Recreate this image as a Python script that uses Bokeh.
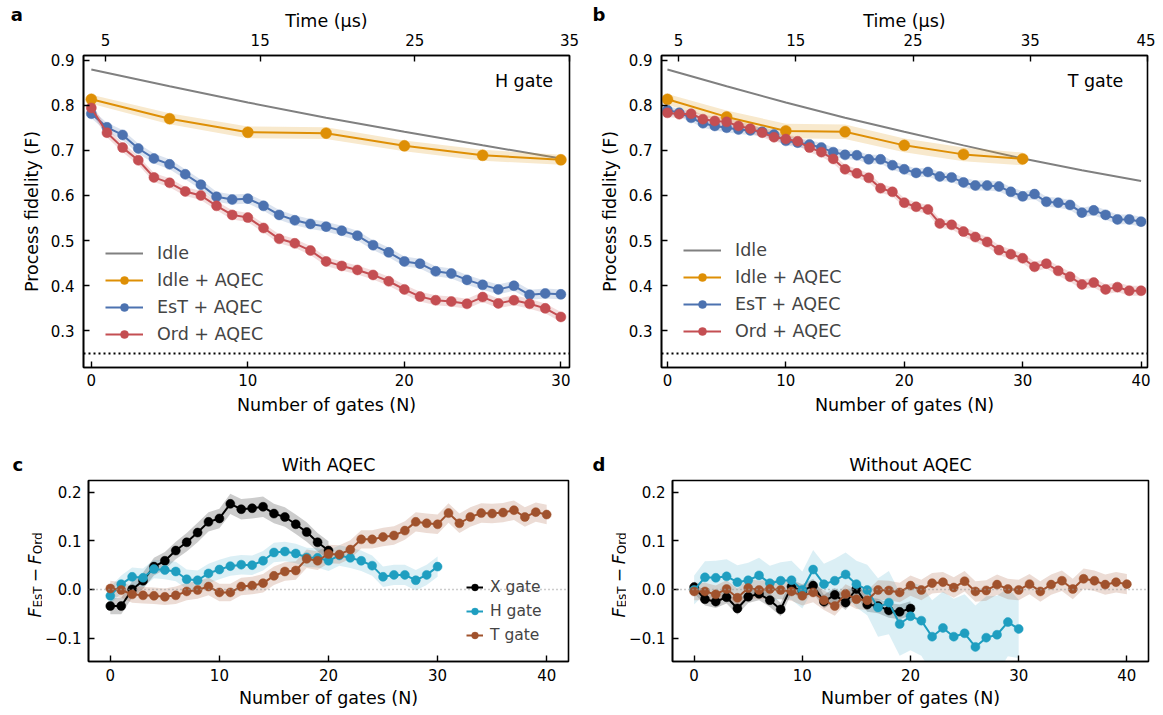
import numpy as np
from bokeh.plotting import figure
from bokeh.models import (Range1d, LinearAxis, FixedTicker, Span, Label, Legend, LegendItem)
from bokeh.layouts import column, row
from bokeh.embed import file_html
from bokeh.resources import INLINE

FONT = "DejaVu Sans"

# ---------------- data ----------------
N30 = list(range(31))
N40 = list(range(41))
N20 = list(range(21))

idle_N_a = [0, 5, 10, 15, 20, 25, 30]
idle_a = [0.879, 0.842, 0.806, 0.772, 0.741, 0.711, 0.682]
idle_N_b = [0, 5, 10, 15, 20, 25, 30, 35, 40]
idle_b = [0.879, 0.842, 0.806, 0.772, 0.741, 0.711, 0.682, 0.656, 0.632]

aqec_N = [0, 5, 10, 15, 20, 25, 30]
idle_aqec_a = [0.813, 0.770, 0.740, 0.738, 0.710, 0.689, 0.679]
idle_aqec_a_err = [0.010, 0.012, 0.013, 0.013, 0.012, 0.012, 0.011]
idle_aqec_b = [0.813, 0.774, 0.743, 0.741, 0.711, 0.691, 0.681]
idle_aqec_b_err = [0.012, 0.014, 0.016, 0.016, 0.015, 0.015, 0.014]

est_a = [0.781, 0.751, 0.734, 0.704, 0.682, 0.669, 0.647, 0.624, 0.597, 0.591,
         0.593, 0.577, 0.557, 0.545, 0.537, 0.531, 0.522, 0.511, 0.490, 0.474,
         0.454, 0.449, 0.432, 0.427, 0.413, 0.402, 0.392, 0.400, 0.380, 0.383, 0.381]
est_a_err = [0.010, 0.010, 0.011, 0.011, 0.011, 0.011, 0.011, 0.011, 0.011, 0.011,
             0.011, 0.011, 0.011, 0.011, 0.011, 0.011, 0.011, 0.011, 0.011, 0.011,
             0.011, 0.011, 0.011, 0.011, 0.011, 0.011, 0.011, 0.011, 0.011, 0.011, 0.011]
ord_a = [0.794, 0.739, 0.706, 0.678, 0.640, 0.628, 0.609, 0.600, 0.577, 0.557,
         0.551, 0.528, 0.504, 0.494, 0.478, 0.454, 0.444, 0.435, 0.424, 0.410,
         0.392, 0.376, 0.368, 0.365, 0.360, 0.375, 0.361, 0.368, 0.360, 0.350, 0.331]
ord_a_err = [0.010, 0.010, 0.010, 0.010, 0.010, 0.010, 0.010, 0.010, 0.010, 0.010,
             0.010, 0.010, 0.010, 0.010, 0.010, 0.010, 0.010, 0.010, 0.010, 0.010,
             0.010, 0.011, 0.011, 0.011, 0.011, 0.011, 0.011, 0.011, 0.011, 0.011, 0.011]

est_b = [0.789, 0.783, 0.772, 0.760, 0.754, 0.750, 0.746, 0.744, 0.741, 0.735,
         0.721, 0.717, 0.713, 0.706, 0.696, 0.690, 0.689, 0.680, 0.680, 0.667,
         0.658, 0.650, 0.652, 0.642, 0.640, 0.629, 0.622, 0.622, 0.620, 0.608,
         0.598, 0.603, 0.586, 0.584, 0.579, 0.562, 0.567, 0.557, 0.547, 0.547, 0.542]
est_b_err = [0.009, 0.009, 0.009, 0.010, 0.010, 0.010, 0.010, 0.010, 0.010, 0.010,
             0.010, 0.010, 0.010, 0.010, 0.010, 0.010, 0.010, 0.010, 0.010, 0.010,
             0.010, 0.010, 0.010, 0.010, 0.010, 0.011, 0.011, 0.011, 0.011, 0.011,
             0.011, 0.011, 0.011, 0.011, 0.011, 0.011, 0.011, 0.011, 0.011, 0.011, 0.011]
ord_b = [0.783, 0.780, 0.781, 0.769, 0.765, 0.763, 0.754, 0.748, 0.739, 0.729,
         0.725, 0.720, 0.706, 0.696, 0.681, 0.658, 0.649, 0.639, 0.616, 0.608,
         0.584, 0.575, 0.569, 0.538, 0.535, 0.520, 0.508, 0.497, 0.479, 0.470,
         0.461, 0.442, 0.449, 0.433, 0.420, 0.403, 0.407, 0.392, 0.397, 0.389, 0.389]
ord_b_err = [0.009, 0.009, 0.009, 0.010, 0.010, 0.010, 0.010, 0.010, 0.010, 0.010,
             0.010, 0.010, 0.010, 0.010, 0.010, 0.010, 0.010, 0.010, 0.010, 0.010,
             0.010, 0.010, 0.010, 0.010, 0.010, 0.011, 0.011, 0.011, 0.011, 0.011,
             0.011, 0.011, 0.011, 0.011, 0.011, 0.011, 0.011, 0.011, 0.011, 0.011, 0.011]

# panel c (with AQEC) and d (without AQEC): F_EsT - F_Ord
c_x = [-0.034, -0.034, 0.000, 0.018, 0.047, 0.059, 0.080, 0.097, 0.117, 0.139,
       0.146, 0.176, 0.165, 0.167, 0.170, 0.156, 0.149, 0.134, 0.118, 0.097, 0.080]
c_x_err = [0.017, 0.017, 0.017, 0.017, 0.018, 0.018, 0.018, 0.019, 0.020, 0.020,
           0.020, 0.021, 0.021, 0.021, 0.021, 0.020, 0.020, 0.020, 0.020, 0.019, 0.019]
c_h = [-0.013, 0.011, 0.026, 0.024, 0.042, 0.040, 0.037, 0.021, 0.019, 0.033,
       0.041, 0.048, 0.051, 0.050, 0.059, 0.076, 0.078, 0.074, 0.066, 0.065,
       0.059, 0.070, 0.065, 0.059, 0.049, 0.026, 0.030, 0.030, 0.019, 0.030, 0.047]
c_h_err = [0.018, 0.018, 0.019, 0.019, 0.019, 0.019, 0.020, 0.020, 0.020, 0.020,
           0.020, 0.020, 0.020, 0.020, 0.020, 0.020, 0.020, 0.020, 0.020, 0.020,
           0.021, 0.021, 0.021, 0.021, 0.021, 0.021, 0.021, 0.021, 0.021, 0.021, 0.021]
c_t = [0.002, -0.001, -0.010, -0.012, -0.013, -0.015, -0.012, -0.004, -0.001, 0.006,
       -0.006, -0.006, 0.006, 0.008, 0.013, 0.028, 0.037, 0.039, 0.063, 0.059,
       0.073, 0.072, 0.082, 0.103, 0.103, 0.108, 0.111, 0.121, 0.139, 0.136,
       0.134, 0.157, 0.136, 0.149, 0.157, 0.156, 0.158, 0.163, 0.149, 0.159, 0.154]
c_t_err = [0.016, 0.016, 0.017, 0.017, 0.017, 0.017, 0.018, 0.018, 0.018, 0.018,
           0.018, 0.018, 0.018, 0.018, 0.019, 0.019, 0.019, 0.019, 0.019, 0.019,
           0.019, 0.019, 0.019, 0.019, 0.019, 0.019, 0.019, 0.019, 0.020, 0.020,
           0.020, 0.020, 0.020, 0.020, 0.020, 0.020, 0.020, 0.020, 0.020, 0.020, 0.020]

d_x = [0.005, -0.020, -0.025, -0.016, -0.039, -0.015, -0.009, -0.022, -0.041, 0.006,
       -0.003, 0.008, -0.025, -0.011, -0.027, 0.001, -0.031, -0.034, -0.043, -0.046, -0.039]
d_x_err = [0.012, 0.013, 0.013, 0.013, 0.013, 0.013, 0.013, 0.014, 0.014, 0.014,
           0.014, 0.014, 0.014, 0.014, 0.015, 0.015, 0.015, 0.015, 0.015, 0.015, 0.015]
d_h = [-0.001, 0.025, 0.024, 0.027, 0.015, 0.019, 0.029, 0.013, 0.018, 0.019,
       -0.001, 0.041, 0.011, 0.018, 0.031, 0.011, -0.001, -0.037, -0.027, -0.071,
       -0.055, -0.064, -0.097, -0.079, -0.097, -0.090, -0.118, -0.099, -0.093, -0.067, -0.081]
d_h_err = [0.030, 0.033, 0.035, 0.035, 0.035, 0.036, 0.036, 0.036, 0.038, 0.040,
           0.038, 0.040, 0.042, 0.045, 0.045, 0.048, 0.052, 0.060, 0.065, 0.065,
           0.070, 0.072, 0.075, 0.075, 0.078, 0.080, 0.085, 0.085, 0.080, 0.070, 0.060]
d_t = [-0.004, -0.004, -0.010, 0.001, -0.017, 0.003, -0.001, 0.001, -0.001, -0.004,
       -0.013, -0.006, -0.022, -0.034, -0.009, -0.020, -0.022, -0.001, -0.002, -0.006,
       0.008, -0.001, 0.013, 0.015, 0.004, 0.017, -0.004, -0.002, 0.010, 0.001,
       -0.001, 0.011, -0.004, 0.010, 0.018, 0.001, 0.022, 0.018, 0.010, 0.015, 0.011]
d_t_err = [0.018, 0.018, 0.018, 0.018, 0.019, 0.019, 0.019, 0.019, 0.019, 0.019,
           0.020, 0.020, 0.020, 0.020, 0.020, 0.020, 0.020, 0.020, 0.020, 0.020,
           0.021, 0.021, 0.021, 0.021, 0.021, 0.021, 0.021, 0.021, 0.021, 0.021,
           0.021, 0.021, 0.021, 0.021, 0.021, 0.021, 0.021, 0.021, 0.021, 0.021, 0.021]

legend_ab = ["Idle", "Idle + AQEC", "EsT + AQEC", "Ord + AQEC"]
legend_cd = ["X gate", "H gate", "T gate"]

# ---------------- style ----------------
GRAY = "#808080"
ORANGE = "#DE8F05"
BLUE = "#4C72B0"
RED = "#C44E52"
BLACK = "#000000"
CYAN = "#1F9EC0"
BROWN = "#A0522D"

TICK_FS = "15px"
LABEL_FS = "17.5px"
LETTER_FS = "18px"
NBSP = "\u00a0"


def make_fig(w, h, bl, br, bt, bb, xr, yr):
    p = figure(width=w, height=h, x_range=Range1d(*xr), y_range=Range1d(*yr),
               output_backend="svg", toolbar_location=None,
               min_border_left=bl, min_border_right=br,
               min_border_top=bt, min_border_bottom=bb)
    p.xgrid.visible = False
    p.ygrid.visible = False
    p.outline_line_color = "black"
    p.outline_line_width = 1.6
    p.outline_line_alpha = 1.0
    p.background_fill_color = "white"
    p.border_fill_color = "white"
    return p


def make_strip(w, h, bt, bb):
    s = figure(width=w, height=h, x_range=Range1d(0, w), y_range=Range1d(0, 1),
               output_backend="svg", toolbar_location=None,
               x_axis_type=None, y_axis_type=None, min_border=0,
               min_border_top=bt, min_border_bottom=bb)
    s.outline_line_color = None
    s.grid.visible = False
    s.background_fill_color = "white"
    s.border_fill_color = "white"
    return s


def style_axis(ax, ticks, label, overrides=None, lab_off=9, ax_off=8):
    ax.ticker = FixedTicker(ticks=ticks)
    ax.axis_label = label
    ax.axis_label_text_font = FONT
    ax.axis_label_text_font_size = LABEL_FS
    ax.axis_label_text_font_style = "normal"
    ax.axis_label_text_color = "black"
    ax.major_label_text_font = FONT
    ax.major_label_text_font_size = TICK_FS
    ax.major_label_text_color = "black"
    ax.major_tick_in = 6
    ax.major_tick_out = 0
    ax.minor_tick_line_color = None
    ax.major_tick_line_color = "black"
    ax.major_tick_line_width = 1.4
    ax.axis_line_color = "black"
    ax.axis_line_width = 1.6
    ax.major_label_standoff = lab_off
    ax.axis_label_standoff = ax_off
    if overrides:
        ax.major_label_overrides = overrides


def band(p, xs, ys, err, color, alpha=0.22):
    lo = [y - e for y, e in zip(ys, err)]
    hi = [y + e for y, e in zip(ys, err)]
    p.varea(x=xs, y1=lo, y2=hi, fill_color=color, fill_alpha=alpha)


def series(p, xs, ys, color, size, lw=2.0):
    l = p.line(xs, ys, line_color=color, line_width=lw)
    s = p.scatter(xs, ys, size=size, fill_color=color, line_color=color, line_width=0.5)
    return [l, s]


def letter_title(s, t, offset, standoff):
    s.title.text = t
    s.title.text_font = FONT
    s.title.text_font_size = LETTER_FS
    s.title.text_font_style = "bold"
    s.title.text_color = "black"
    s.title.align = "left"
    s.title.offset = offset
    s.title.standoff = standoff


def diff_label(s, xb, y0):
    # F_EsT − F_Ord built from rotated pieces (reads bottom to top), screen px from frame bottom
    pieces = [("F", 17, "italic", 0.0, 10.0, 0.0),
              ("EsT", 12, "normal", 3.6, 21.5, 0.0),
              ("−", 17, "normal", 0.0, 14.2, 3.8),
              ("F", 17, "italic", 0.0, 10.0, 3.8),
              ("Ord", 12, "normal", 3.6, 22.0, 0.0)]
    y = y0
    for t, fs, st, dx, w, g in pieces:
        y += g
        s.add_layout(Label(x=xb + dx, y=y, x_units="data", y_units="screen", text=t,
                           angle=np.pi / 2, text_font=FONT, text_font_style=st,
                           text_font_size=f"{fs}px", text_align="left",
                           text_baseline="alphabetic", text_color="black"))
        y += w


# ---------------- panels a & b ----------------
H1 = 440
TOP1, BOT1 = 54, 73


def fidelity_panel(w, bl, br, xr, time_range, time_ticks, xticks, idle_N, idle_vals,
                   ia, ia_err, est, est_err, ordv, ord_err, N, gate_txt, gate_x,
                   legend_loc):
    p = make_fig(w, H1, bl, br, TOP1, BOT1, xr, (0.219, 0.910))
    p.extra_x_ranges = {"time": Range1d(*time_range)}
    style_axis(p.xaxis[0], xticks, "Number of gates (N)", lab_off=6, ax_off=6)
    style_axis(p.yaxis[0], [0.3, 0.4, 0.5, 0.6, 0.7, 0.8, 0.9], "")
    top = LinearAxis(x_range_name="time")
    style_axis(top, time_ticks, "Time (μs)", lab_off=10, ax_off=0)
    p.add_layout(top, "above")

    p.add_layout(Span(location=0.25, dimension="width", line_color="black",
                      line_width=2, line_dash="2 3"))

    r_idle = p.line(idle_N, idle_vals, line_color=GRAY, line_width=2)
    band(p, aqec_N, ia, ia_err, ORANGE, 0.2)
    band(p, N, est, est_err, BLUE, 0.2)
    band(p, N, ordv, ord_err, RED, 0.2)
    r_ia = series(p, aqec_N, ia, ORANGE, 11)
    r_est = series(p, N, est, BLUE, 10)
    r_ord = series(p, N, ordv, RED, 10)

    items = [LegendItem(label=legend_ab[0], renderers=[r_idle]),
             LegendItem(label=legend_ab[1], renderers=r_ia),
             LegendItem(label=legend_ab[2], renderers=r_est),
             LegendItem(label=legend_ab[3], renderers=r_ord)]
    leg = Legend(items=items, location=legend_loc, padding=0, margin=0,
                 border_line_alpha=0, background_fill_alpha=0,
                 label_text_font=FONT, label_text_font_size=LABEL_FS,
                 glyph_width=38, glyph_height=20, label_height=20, spacing=7,
                 label_standoff=14)
    p.add_layout(leg)

    p.add_layout(Label(x=gate_x, y=0.854, text=gate_txt, text_font=FONT,
                       text_font_size=LABEL_FS, text_align="right",
                       text_baseline="middle", text_color="black"))
    return p


def top_strip(w, letter, xlabel):
    s = make_strip(w, H1, TOP1, BOT1)
    ghost = LinearAxis()
    style_axis(ghost, [w / 2.0], letter, {w / 2.0: NBSP}, lab_off=10, ax_off=0)
    ghost.axis_label_text_font_size = LETTER_FS
    ghost.axis_label_text_font_style = "bold"
    ghost.axis_line_alpha = 0
    ghost.major_tick_line_alpha = 0
    s.add_layout(ghost, "above")
    s.add_layout(Label(x=xlabel, y=0.5, text="Process fidelity (F)", text_font=FONT,
                       text_font_size=LABEL_FS, text_align="center",
                       text_baseline="middle", angle=np.pi / 2, text_color="black"))
    return s


pa = fidelity_panel(536, 38, 12, (-0.5, 30.55), (3.58, 35.0), [5, 15, 25, 35],
                    [0, 10, 20, 30], idle_N_a, idle_a, idle_aqec_a, idle_aqec_a_err,
                    est_a, est_a_err, ord_a, ord_a_err, N30, "H gate", 29.5, (22, 23))
pb = fidelity_panel(533, 39, 8, (-0.5, 40.54), (3.55, 45.0), [5, 15, 25, 35, 45],
                    [0, 10, 20, 30, 40], idle_N_b, idle_b, idle_aqec_b, idle_aqec_b_err,
                    est_b, est_b_err, ord_b, ord_b_err, N40, "T gate", 38.5, (22, 26))
# trailing no-break spaces shift the centred letter to the left
sa = top_strip(45, "a" + NBSP * 2, 31)
sb = top_strip(41, "b" + NBSP, 28)

# ---------------- panels c & d ----------------
H2 = 272
TOP2, BOT2 = 40, 51


def diff_panel(w, bl, br, title, sets, show_legend):
    p = make_fig(w, H2, bl, br, TOP2, BOT2, (-2, 42), (-0.148, 0.224))
    style_axis(p.xaxis[0], [0, 10, 20, 30, 40], "Number of gates (N)", lab_off=7, ax_off=4)
    style_axis(p.yaxis[0], [-0.1, 0, 0.1, 0.2], "",
               {-0.1: "−0.1", 0: "0.0", 0.1: "0.1", 0.2: "0.2"}, lab_off=7)
    p.title.text = title
    p.title.text_font = FONT
    p.title.text_font_size = LABEL_FS
    p.title.text_font_style = "normal"
    p.title.text_color = "black"
    p.title.align = "center"
    p.title.standoff = 11

    p.add_layout(Span(location=0, dimension="width", line_color="#999999",
                      line_width=1.4, line_dash="1 3"))
    rs = []
    for xs, ys, err, col in sets:
        band(p, xs, ys, err, col, 0.2 if col != CYAN else 0.16)
    for xs, ys, err, col in sets:
        rs.append(series(p, xs, ys, col, 9))
    if show_legend:
        items = [LegendItem(label=legend_cd[i], renderers=rs[i]) for i in range(3)]
        leg = Legend(items=items, location=(378, 17), padding=0, margin=0,
                     border_line_alpha=0, background_fill_alpha=0,
                     label_text_font=FONT, label_text_font_size="15.5px",
                     glyph_width=17, glyph_height=18, label_height=18, spacing=6,
                     label_standoff=7)
        p.add_layout(leg)
    return p


def bottom_strip(w, letter, offset, xb):
    s = make_strip(w, H2, TOP2, BOT2)
    letter_title(s, letter, offset, 11)
    diff_label(s, xb, 44)
    return s


pc = diff_panel(536, 44, 10, "With AQEC",
                [(N20, c_x, c_x_err, BLACK), (N30, c_h, c_h_err, CYAN), (N40, c_t, c_t_err, BROWN)],
                True)
pd = diff_panel(529, 44, 7, "Without AQEC",
                [(N20, d_x, d_x_err, BLACK), (N30, d_h, d_h_err, CYAN), (N40, d_t, d_t_err, BROWN)],
                False)
sc = bottom_strip(42, "c", 12, 34)
sd = bottom_strip(48, "d", 14, 40)

layout = column(row(sa, pa, sb, pb, spacing=0), row(sc, pc, sd, pd, spacing=0), spacing=0)
open("out.html", "w").write(file_html(layout, INLINE))
